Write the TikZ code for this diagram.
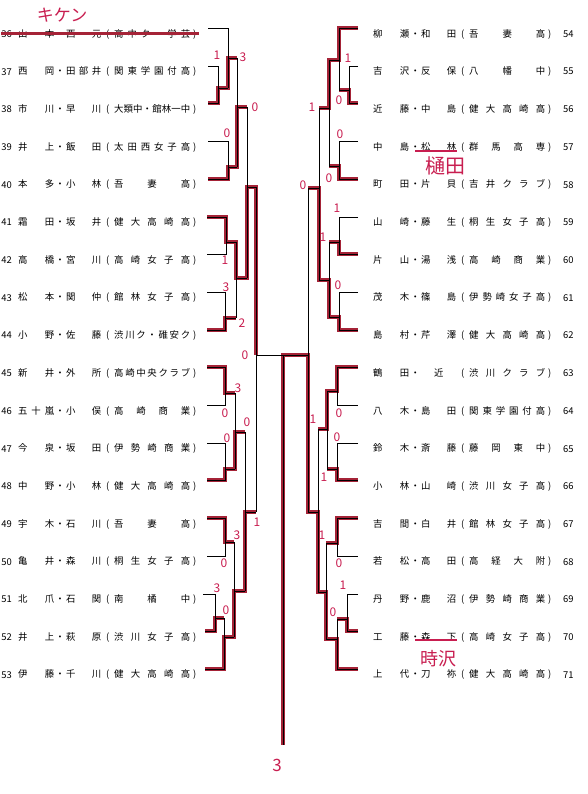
\documentclass[tikz,border=0pt]{standalone}
\usepackage{fontspec}
\setmainfont{Noto Sans CJK JP}
\usepackage{xcolor}
\usepackage{tikz}
\usetikzlibrary{positioning}

\definecolor{winred}{RGB}{165,35,55}
\definecolor{penred}{RGB}{200,30,80}

% spread the characters of a name over a fixed field
\def\spreadloop#1{\ifx#1\relax\else\hfill#1\expandafter\spreadloop\fi}
\def\spreadfirst#1{#1\spreadloop}
\newcommand\spreadtext[2]{\makebox[#1][s]{\expandafter\spreadfirst#2\relax}}
\newcommand\pairentry[3]{\spreadtext{36pt}{#1}\makebox[12pt]{・}\spreadtext{35pt}{#2}\makebox[13pt]{(}\spreadtext{76pt}{#3}\makebox[9pt]{)}}

\begin{document}
\begin{tikzpicture}[
  x=1pt,y=-1pt,
  entry/.style={inner sep=0pt,font=\fontsize{9.4}{10}\selectfont},
  num/.style={inner sep=0pt,font=\fontsize{9.4}{10}\selectfont},
  line/.style={line width=0.7pt,black},
  win/.style={line width=3.2pt,winred},
  score/.style={inner sep=0pt,text=penred,font=\fontsize{12}{12}\selectfont},
  pen/.style={inner sep=0pt,text=penred},
  strike/.style={line width=2pt,penred}
]
\useasboundingbox (0,0) rectangle (588,794);

% entries, left half
\foreach \n/\a/\b/\s [count=\i from 0] in {36/山本/西元/高中ク・学芸,37/西岡/田部井/関東学園付高,38/市川/早川/大類中・館林一中,39/井上/飯田/太田西女子高,40/本多/小林/吾妻高,41/霜田/坂井/健大高崎高,42/高橋/宮川/高崎女子高,43/松本/関仲/館林女子高,44/小野/佐藤/渋川ク・碓安ク,45/新井/外所/高崎中央クラブ,46/五十嵐/小俣/高崎商業,47/今泉/坂田/伊勢崎商業,48/中野/小林/健大高崎高,49/宇木/石川/吾妻高,50/亀井/森川/桐生女子高,51/北爪/石関/南橘中,52/井上/萩原/渋川女子高,53/伊藤/千川/健大高崎高}{
  \node[num,anchor=east] (n\n) at (12,{34+37.7*\i}) {\n};
  \node[entry,anchor=west] (e\n) at (18,{34+37.7*\i}) {\pairentry{\a}{\b}{\s}};
}

% entries, right half
\foreach \n/\a/\b/\s [count=\i from 0] in {54/柳瀬/和田/吾妻高,55/吉沢/反保/八幡中,56/近藤/中島/健大高崎高,57/中島/松林/群馬高専,58/町田/片貝/吉井クラブ,59/山崎/藤生/桐生女子高,60/片山/湯浅/高崎商業,61/茂木/篠島/伊勢崎女子高,62/島村/芹澤/健大高崎高,63/鶴田/\hfil 近\hfil/渋川クラブ,64/八木/島田/関東学園付高,65/鈴木/斎藤/藤岡東中,66/小林/山崎/渋川女子高,67/吉間/白井/館林女子高,68/若松/高田/高経大附,69/丹野/鹿沼/伊勢崎商業,70/工藤/森下/高崎女子高,71/上代/刀祢/健大高崎高}{
  \node[entry,anchor=west] (e\n) at (373,{34+37.7*\i}) {\pairentry{\a}{\b}{\s}};
  \node[num,anchor=west] (n\n) at (563,{34+37.7*\i}) {\n};
}

% winners (red)
\draw[win] (208,103) -- (218,103) -- (218,88) -- (228,88) -- (228,58) -- (237,58);
\draw[win] (208,179) -- (228,179) -- (228,167) -- (237,167) -- (237,107) -- (247,107);
\draw[win] (207,217) -- (226,217) -- (226,242) -- (236,242) -- (236,278) -- (247,278) -- (247,187) -- (256,187) -- (256,355);
\draw[win] (207,330) -- (225,330) -- (225,318) -- (236,318);
\draw[win] (207,367) -- (225,367) -- (225,393) -- (235,393);
\draw[win] (207,480) -- (225,480) -- (225,469) -- (235,469) -- (235,432) -- (245,432);
\draw[win] (207,518) -- (225,518) -- (225,542) -- (234,542);
\draw[win] (205,631) -- (215,631) -- (215,618) -- (224,618);
\draw[win] (205,669) -- (224,669) -- (224,637) -- (234,637) -- (234,591) -- (245,591) -- (245,512) -- (256,512);
\draw[win] (358,28) -- (339,28) -- (339,60) -- (329,60) -- (329,108) -- (319,108);
\draw[win] (358,103) -- (349,103) -- (349,90) -- (339,90);
\draw[win] (358,179) -- (339,179) -- (339,166) -- (329,166);
\draw[win] (358,254) -- (339,254) -- (339,242) -- (329,242);
\draw[win] (358,330) -- (339,330) -- (339,317) -- (329,317) -- (329,280) -- (319,280) -- (319,188) -- (308,188);
\draw[win] (358,367) -- (337,367) -- (337,391) -- (327,391) -- (327,429) -- (318,429);
\draw[win] (358,480) -- (337,480) -- (337,469) -- (327,469);
\draw[win] (358,518) -- (337,518) -- (337,543) -- (326,543);
\draw[win] (358,631) -- (347,631) -- (347,619) -- (337,619);
\draw[win] (358,669) -- (337,669) -- (337,639) -- (326,639) -- (326,592) -- (318,592) -- (318,512) -- (308,512) -- (308,355) -- (283,355) -- (283,745);

% bracket, left half
\draw[line] (208,28) -- (228,28) -- (228,88);
\draw[line] (208,66) -- (218,66) -- (218,103) -- (208,103);
\draw[line] (218,88) -- (228,88);
\draw[line] (228,58) -- (237,58) -- (237,167);
\draw[line] (208,141) -- (228,141) -- (228,179) -- (208,179);
\draw[line] (228,167) -- (237,167);
\draw[line] (237,107) -- (247,107) -- (247,278);
\draw[line] (207,217) -- (226,217) -- (226,254) -- (207,254);
\draw[line] (226,242) -- (236,242) -- (236,318);
\draw[line] (207,292) -- (225,292) -- (225,330) -- (207,330);
\draw[line] (225,318) -- (236,318);
\draw[line] (236,278) -- (247,278);
\draw[line] (247,187) -- (256,187) -- (256,512);
\draw[line] (207,367) -- (225,367) -- (225,405) -- (207,405);
\draw[line] (225,393) -- (235,393) -- (235,469);
\draw[line] (207,443) -- (225,443) -- (225,480) -- (207,480);
\draw[line] (225,469) -- (235,469);
\draw[line] (235,432) -- (245,432) -- (245,591);
\draw[line] (207,518) -- (225,518) -- (225,556) -- (207,556);
\draw[line] (225,542) -- (234,542) -- (234,637);
\draw[line] (203,594) -- (215,594) -- (215,631) -- (205,631);
\draw[line] (215,618) -- (224,618) -- (224,669) -- (205,669);
\draw[line] (224,637) -- (234,637);
\draw[line] (234,591) -- (245,591);
\draw[line] (245,512) -- (256,512);

% bracket, right half
\draw[line] (358,28) -- (339,28) -- (339,90);
\draw[line] (358,66) -- (349,66) -- (349,103) -- (358,103);
\draw[line] (349,90) -- (339,90);
\draw[line] (339,60) -- (329,60) -- (329,166);
\draw[line] (358,141) -- (339,141) -- (339,179) -- (358,179);
\draw[line] (339,166) -- (329,166);
\draw[line] (329,108) -- (319,108) -- (319,280);
\draw[line] (358,217) -- (339,217) -- (339,254) -- (358,254);
\draw[line] (339,242) -- (329,242) -- (329,317);
\draw[line] (358,292) -- (339,292) -- (339,330) -- (358,330);
\draw[line] (339,317) -- (329,317);
\draw[line] (329,280) -- (319,280);
\draw[line] (319,188) -- (308,188) -- (308,512);
\draw[line] (358,367) -- (337,367) -- (337,405) -- (358,405);
\draw[line] (337,391) -- (327,391) -- (327,469);
\draw[line] (358,443) -- (337,443) -- (337,480) -- (358,480);
\draw[line] (337,469) -- (327,469);
\draw[line] (327,429) -- (318,429) -- (318,592);
\draw[line] (358,518) -- (337,518) -- (337,556) -- (358,556);
\draw[line] (337,543) -- (326,543) -- (326,639);
\draw[line] (358,594) -- (347,594) -- (347,631) -- (358,631);
\draw[line] (347,619) -- (337,619) -- (337,669) -- (358,669);
\draw[line] (337,639) -- (326,639);
\draw[line] (326,592) -- (318,592);
\draw[line] (318,512) -- (308,512);

% final
\draw[line] (256,355) -- (308,355);
\draw[line] (283,355) -- (283,745);

% handwritten scores
\foreach \x/\y/\t [count=\k] in {217/55/1,243/57/3,255/107/0,227/133/0,225/260/1,226/287/3,242/323/2,245/355/0,238/388/3,225/413/0,247/422/0,227/438/0,257/522/1,237/535/3,224/563/0,217/588/3,226/610/0,348/58/1,339/100/0,312/107/1,340/134/0,329/178/0,303/185/0,337/208/1,323/237/1,338/285/0,313/419/1,339/413/0,337/437/0,324/477/1,322/535/1,339/563/0,343/585/1,333/612/0}
  \node[score] (s\k) at (\x,\y) {\t};
\node[score,font=\fontsize{17}{17}\selectfont] (champ) at (277,765) {3};

% handwritten notes
\node[pen,font=\fontsize{17}{17}\selectfont] (kiken) at (62,15) {キケン};
\draw[strike,line width=3pt,winred] (n36.west) -- (e36.east);
\node[pen,font=\fontsize{20}{20}\selectfont] (hida) at (445,166) {樋田};
\draw[strike] (415,151) -- (457,151);
\node[pen,font=\fontsize{18}{18}\selectfont] (tokizawa) at (438,659) {時沢};
\draw[strike] (415,640) -- (457,640);
\end{tikzpicture}
\end{document}
